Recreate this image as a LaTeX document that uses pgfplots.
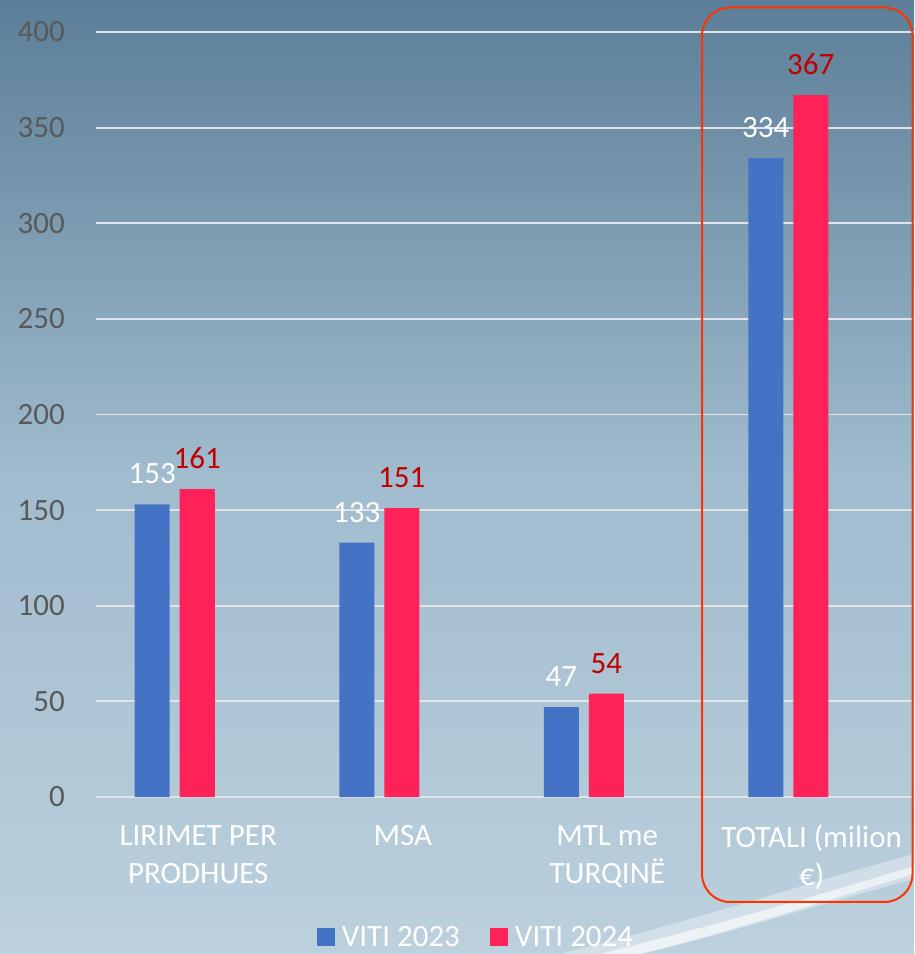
\documentclass[border=0pt]{standalone}
\usepackage{pgfplots}
\pgfplotsset{compat=1.18}
\usepackage{fontspec}
\setmainfont{Carlito}
\definecolor{bblue}{RGB}{68,114,196}
\definecolor{bpink}{RGB}{255,34,89}
\definecolor{lblred}{RGB}{192,0,0}
\definecolor{tickgray}{RGB}{89,89,89}
\definecolor{bgtop}{RGB}{92,126,152}
\definecolor{bgmid}{RGB}{160,188,206}
\definecolor{bgbot}{RGB}{188,208,221}
\definecolor{boxred}{RGB}{255,51,0}
\definecolor{gridc}{RGB}{225,228,230}
\begin{document}
\begin{tikzpicture}
\clip (0,0) rectangle (914pt,954pt);
\shade[top color=bgtop, bottom color=bgbot, middle color=bgmid] (0,0) rectangle (914pt,954pt);
\fill[white, opacity=0.35] (560pt,0pt) .. controls (700pt,35pt) and (820pt,75pt) .. (914pt,100pt) -- (914pt,75pt) .. controls (820pt,50pt) and (720pt,18pt) .. (640pt,0pt) -- cycle;
\fill[white, opacity=0.6] (600pt,0pt) .. controls (720pt,30pt) and (830pt,62pt) .. (914pt,88pt) -- (914pt,80pt) .. controls (830pt,55pt) and (730pt,22pt) .. (640pt,0pt) -- cycle;
\begin{axis}[
  at={(96pt,157pt)}, anchor=south west,
  scale only axis, width=818pt, height=765pt,
  xmin=-0.5, xmax=3.5, ymin=0, ymax=400,
  ytick={0,50,...,400}, xtick={0,1,2,3},
  xticklabels={{LIRIMET PER\\PRODHUES},{MSA},{MTL me\\TURQINË},{TOTALI (milion\\€)}},
  axis line style={draw=none}, tick style={draw=none}, major tick length=0pt,
  ymajorgrids, grid style={gridc, line width=1.8pt},
  /pgf/number format/assume math mode=true,
  yticklabel style={font=\fontsize{31}{36}\selectfont, text=tickgray, inner sep=0pt, anchor=east, xshift=-31pt},
  xticklabel style={align=center, text=white, font=\fontsize{31}{38}\selectfont, inner sep=0pt, anchor=north, yshift=-28pt},
  ybar, bar width=35pt,
  legend style={at={(0.4645,-0.183)}, anchor=center, legend columns=2, draw=none, fill=none, text=white,
    font=\fontsize{31}{36}\selectfont, /tikz/every even column/.append style={column sep=28pt},
    /tikz/every odd column/.append style={column sep=5pt}},
  legend image code/.code={\fill[#1,draw=none] (0pt,-9pt) rectangle (18pt,9pt);},
]
\addplot[fill=bblue, draw=none, bar shift=-46pt, nodes near coords,
  every node near coord/.append style={text=white, font=\fontsize{31}{36}\selectfont, inner sep=0pt, anchor=south, yshift=20pt}]
  coordinates {(0,153) (1,133) (2,47) (3,334)};
\addlegendentry{VITI 2023}
\addplot[fill=bpink, draw=none, bar shift=-1pt, nodes near coords,
  every node near coord/.append style={text=lblred, font=\fontsize{31}{36}\selectfont, inner sep=0pt, anchor=south, yshift=20pt}]
  coordinates {(0,161) (1,151) (2,54) (3,367)};
\addlegendentry{VITI 2024}
\end{axis}
\draw[boxred, line width=2pt, rounded corners=28pt] (702pt,52pt) rectangle (912.5pt,946.5pt);
\end{tikzpicture}
\end{document}
